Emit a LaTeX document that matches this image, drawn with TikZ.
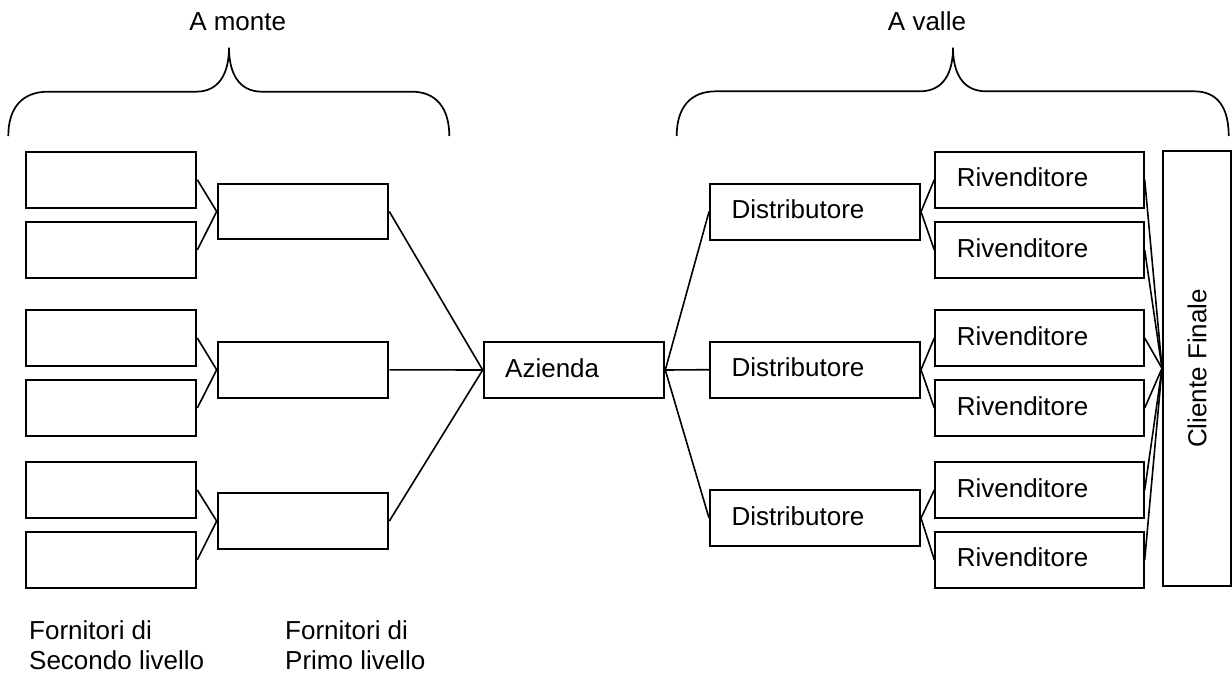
\documentclass[tikz,border=0pt]{standalone}
\usepackage{fontspec}
\setmainfont{Liberation Sans}
\begin{document}
\begin{tikzpicture}[x=1pt,y=-1pt,
  font=\fontsize{26}{30}\selectfont,
  box/.style={draw, line width=2pt, rectangle, anchor=north west, inner sep=0pt, minimum height=56pt},
  lbox/.style={box, inner xsep=21.5pt, align=left, text height=18pt, text depth=4pt},
  conn/.style={line width=1.6pt},
  brace/.style={line width=1.7pt},
  lab/.style={inner sep=0pt}]
\useasboundingbox (0,0) rectangle (1232,673);

% second-level suppliers
\foreach \n/\y in {1/150.7,2/221,3/309,4/379,5/461,6/530.7}{
  \node[box, minimum width=170.8pt] (l\n) at (24.5,\y) {};
}
% first-level suppliers
\foreach \n/\y in {1/182.7,2/341,3/492.3}{
  \node[box, minimum width=170.6pt, minimum height=55.6pt] (p\n) at (216.7,\y) {};
}
% company
\node[lbox, minimum width=180.6pt, text width=137.6pt] (az) at (482.7,341) {Azienda};
% distributors
\foreach \n/\y in {1/182.7,2/340.7,3/489}{
  \node[lbox, minimum width=210pt, text width=167pt] (d\n) at (709,\y) {Distributore};
}
% retailers
\foreach \n/\y in {1/150.7,2/221,3/309,4/379,5/461,6/530.7}{
  \node[lbox, minimum width=208.4pt, text width=165.4pt] (r\n) at (934.3,\y) {Rivenditore};
}
% final customer
\node[draw, line width=2pt, rectangle, rotate=90, inner sep=0pt, minimum width=435.3pt, minimum height=68pt] (cf) at (1197,368.3) {Cliente Finale};

% connectors
\draw[conn] (l1.east) -- (p1.west);
\draw[conn] (l2.east) -- (p1.west);
\draw[conn] (l3.east) -- (p2.west);
\draw[conn] (l4.east) -- (p2.west);
\draw[conn] (l5.east) -- (p3.west);
\draw[conn] (l6.east) -- (p3.west);
\foreach \n in {1,2,3}{
  \draw[conn] (p\n.east) -- (az.west);
  \draw[conn] (az.east) -- (d\n.west);
}
\draw[conn] (d1.east) -- (r1.west);
\draw[conn] (d1.east) -- (r2.west);
\draw[conn] (d2.east) -- (r3.west);
\draw[conn] (d2.east) -- (r4.west);
\draw[conn] (d3.east) -- (r5.west);
\draw[conn] (d3.east) -- (r6.west);
\foreach \n in {1,...,6}{
  \draw[conn] (r\n.east) -- (cf.north);
}

% braces
\draw[brace] (8.3,136) .. controls (8.3,108) and (22,91.7) .. (48,91.7) -- (196,91.7)
  .. controls (220,91.7) and (229,72) .. (229,47.7)
  .. controls (229,72) and (238,91.7) .. (262,91.7) -- (412,91.7)
  .. controls (436,91.7) and (449.3,108) .. (449.3,136);
\draw[brace] (676.7,136) .. controls (676.7,108) and (690,91.3) .. (716,91.3) -- (920,91.3)
  .. controls (944,91.3) and (953,72) .. (953,47.7)
  .. controls (953,72) and (962,91.3) .. (986,91.3) -- (1194,91.3)
  .. controls (1218,91.3) and (1228.7,108) .. (1228.7,136);

% labels
\node[lab, anchor=base] (tmonte) at (237.7,30.5) {A monte};
\node[lab, anchor=base] (tvalle) at (927,30.5) {A valle};
\node[lab, anchor=north west, align=left] (f2) at (29,620.4) {Fornitori di\\Secondo livello};
\node[lab, anchor=north west, align=left] (f1) at (285,620.4) {Fornitori di\\Primo livello};
\end{tikzpicture}
\end{document}
